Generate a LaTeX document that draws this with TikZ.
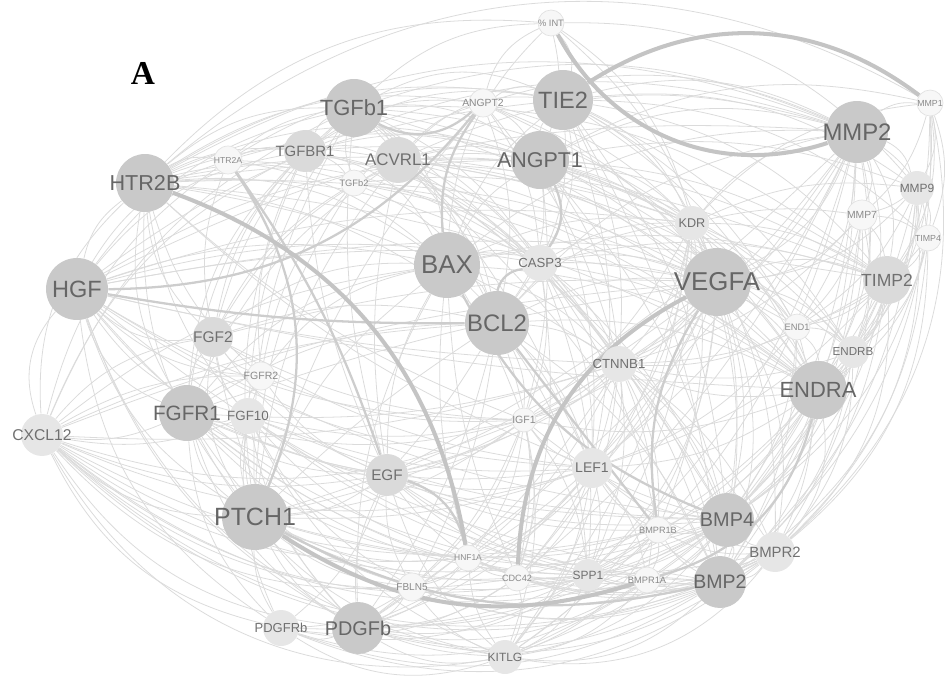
\documentclass[tikz,border=0pt]{standalone}
\usepackage{fontspec}
\setmainfont{Liberation Sans}
\newfontfamily\panelfont{Liberation Serif}
\pgfdeclarelayer{back}
\pgfsetlayers{back,main}
\definecolor{hubfill}{HTML}{C9C9C9}
\definecolor{midfill}{HTML}{DADADA}
\definecolor{palefill}{HTML}{E6E6E6}
\definecolor{leaffill}{HTML}{F7F7F7}
\definecolor{leafline}{HTML}{E2E2E2}
\definecolor{hubtext}{HTML}{666666}
\definecolor{midtext}{HTML}{707070}
\definecolor{leaftext}{HTML}{8A8A8A}
\definecolor{linkgray}{HTML}{DBDBDB}
\definecolor{medgray}{HTML}{CDCDCD}
\definecolor{heavygray}{HTML}{C4C4C4}
\newcommand\fz[1]{\fontsize{#1}{#1}\selectfont}
\newcommand\lbl[1]{\makebox[0pt]{#1}}
\tikzset{
  gene/.style={circle, inner sep=0pt, minimum size=#1*0.04cm},
  hub/.style={gene=#1, fill=hubfill, text=hubtext},
  mid/.style={gene=#1, fill=midfill, text=midtext},
  pale/.style={gene=#1, fill=palefill, text=midtext},
  leaf/.style={gene=#1, fill=leaffill, draw=leafline, line width=0.4pt, text=leaftext},
  link/.style={draw=linkgray, line width=0.45pt},
  medlink/.style={draw=medgray, line width=1.3pt},
  heavylink/.style={draw=heavygray, line width=2.3pt}
}

\begin{document}
\begin{tikzpicture}[x=0.02cm, y=-0.02cm]
  \useasboundingbox (0,0) rectangle (945,679);
  \node[font=\panelfont\bfseries\fz{19}] (panel) at (143,73) {A};
  \node[hub=29, font=\fz{12.5}] (tgfb1) at (354,108) {\lbl{TGFb1}};
  \node[hub=30, font=\fz{13.4}] (tie2) at (563,100) {\lbl{TIE2}};
  \node[hub=31, font=\fz{13.6}] (mmp2) at (857,132) {\lbl{MMP2}};
  \node[hub=29, font=\fz{12.3}] (htr2b) at (145,183) {\lbl{HTR2B}};
  \node[hub=29, font=\fz{12.2}] (angpt1) at (540,160) {\lbl{ANGPT1}};
  \node[hub=31, font=\fz{13.4}] (hgf) at (77,289) {\lbl{HGF}};
  \node[hub=33, font=\fz{14.7}] (bax) at (447,265) {\lbl{BAX}};
  \node[hub=32, font=\fz{13.6}] (bcl2) at (497,323) {\lbl{BCL2}};
  \node[hub=34, font=\fz{14.7}] (vegfa) at (717,282) {\lbl{VEGFA}};
  \node[hub=29, font=\fz{12.5}] (endra) at (818,390) {\lbl{ENDRA}};
  \node[hub=28, font=\fz{11.8}] (fgfr1) at (187,413) {\lbl{FGFR1}};
  \node[hub=33, font=\fz{14.2}] (ptch1) at (255,517) {\lbl{PTCH1}};
  \node[hub=26, font=\fz{11.3}] (pdgfb) at (358,628) {\lbl{PDGFb}};
  \node[hub=27, font=\fz{11.3}] (bmp4) at (727,520) {\lbl{BMP4}};
  \node[hub=26, font=\fz{11.1}] (bmp2) at (720,582) {\lbl{BMP2}};
  \node[mid=21, font=\fz{8.5}] (tgfbr1) at (305,151) {\lbl{TGFBR1}};
  \node[mid=23, font=\fz{9.6}] (acvrl1) at (398,160) {\lbl{ACVRL1}};
  \node[mid=20, font=\fz{8.8}] (fgf2) at (213,337) {\lbl{FGF2}};
  \node[mid=24, font=\fz{10}] (timp2) at (887,280) {\lbl{TIMP2}};
  \node[pale=21, font=\fz{8.9}] (cxcl12) at (42,435) {\lbl{CXCL12}};
  \node[mid=21, font=\fz{8.7}] (egf) at (387,475) {\lbl{EGF}};
  \node[pale=20, font=\fz{8}] (lef1) at (592,468) {\lbl{LEF1}};
  \node[pale=20, font=\fz{8.5}] (bmpr2) at (775,552) {\lbl{BMPR2}};
  \node[pale=18, font=\fz{7.5}] (ctnnb1) at (619,364) {\lbl{CTNNB1}};
  \node[pale=17, font=\fz{7.2}] (kdr) at (692,223) {\lbl{KDR}};
  \node[pale=17, font=\fz{6.8}] (mmp9) at (917,188) {\lbl{MMP9}};
  \node[pale=16, font=\fz{6.8}] (spp1) at (588,575) {\lbl{SPP1}};
  \node[pale=18, font=\fz{7.5}] (casp3) at (540,263) {\lbl{CASP3}};
  \node[pale=18, font=\fz{7.6}] (fgf10) at (248,416) {\lbl{FGF10}};
  \node[pale=17, font=\fz{6.8}] (kitlg) at (505,657) {\lbl{KITLG}};
  \node[pale=18, font=\fz{7.4}] (pdgfrb) at (281,628) {\lbl{PDGFRb}};
  \node[pale=16, font=\fz{6.6}] (endrb) at (853,352) {\lbl{ENDRB}};
  \node[leaf=13, font=\fz{5.3}] (pint) at (551,23) {\lbl{\% INT}};
  \node[leaf=14, font=\fz{5.9}] (angpt2) at (483,103) {\lbl{ANGPT2}};
  \node[leaf=14, font=\fz{4.9}] (htr2a) at (228,160) {\lbl{HTR2A}};
  \node[leaf=13, font=\fz{5.3}] (tgfb2) at (354,183) {\lbl{TGFb2}};
  \node[leaf=13, font=\fz{5}] (mmp1) at (930,103) {\lbl{MMP1}};
  \node[leaf=15, font=\fz{5.9}] (mmp7) at (862,215) {\lbl{MMP7}};
  \node[leaf=13, font=\fz{5}] (timp4) at (928,238) {\lbl{TIMP4}};
  \node[leaf=13, font=\fz{5.3}] (end1) at (797,327) {\lbl{END1}};
  \node[leaf=14, font=\fz{6}] (fgfr2) at (261,376) {\lbl{FGFR2}};
  \node[leaf=12, font=\fz{6}] (igf1) at (524,420) {\lbl{IGF1}};
  \node[leaf=13, font=\fz{5.2}] (bmpr1b) at (658,530) {\lbl{BMPR1B}};
  \node[leaf=13, font=\fz{4.8}] (hnf1a) at (468,558) {\lbl{HNF1A}};
  \node[leaf=13, font=\fz{5.2}] (cdc42) at (517,578) {\lbl{CDC42}};
  \node[leaf=13, font=\fz{5.3}] (bmpr1a) at (647,580) {\lbl{BMPR1A}};
  \node[leaf=14, font=\fz{5.7}] (fbln5) at (412,587) {\lbl{FBLN5}};
  \begin{pgfonlayer}{back}
  \foreach \a/\b/\k in {vegfa/ctnnb1/15, vegfa/endra/15, vegfa/bmp4/15, vegfa/bmp2/20, vegfa/lef1/15, vegfa/spp1/20, vegfa/kitlg/25, vegfa/pdgfb/20, vegfa/egf/15, vegfa/ptch1/10, fgf2/vegfa/8, fgfr1/vegfa/5, hgf/vegfa/10, htr2b/vegfa/12, tgfb1/vegfa/15, bax/vegfa/15, angpt1/vegfa/20, tie2/vegfa/20, angpt2/vegfa/15, kdr/vegfa/15, casp3/vegfa/15, bcl2/vegfa/15, mmp2/vegfa/20, mmp9/vegfa/20, mmp7/vegfa/20, vegfa/timp2/20, vegfa/end1/20, vegfa/endrb/20, vegfa/igf1/15, cxcl12/vegfa/8, vegfa/hnf1a/15, vegfa/bmpr2/20,
    hgf/htr2b/20, hgf/htr2a/20, hgf/tgfb1/20, hgf/tgfbr1/20, hgf/bax/15, hgf/angpt1/15, hgf/tie2/15, hgf/mmp2/15, hgf/timp2/10, hgf/casp3/12, hgf/kdr/12, endra/hgf/5, fgf2/hgf/25, fgfr1/hgf/25, cxcl12/hgf/30, fgf10/hgf/20, ptch1/hgf/20, egf/hgf/20, pdgfb/hgf/20, pdgfrb/hgf/25, kitlg/hgf/30, bmp2/hgf/15, bmp4/hgf/12, lef1/hgf/15, ctnnb1/hgf/5, igf1/hgf/15, fgfr2/hgf/20, spp1/hgf/20,
    bax/bcl2/20, bax/casp3/20, bax/tie2/15, bax/angpt1/15, bax/kdr/15, bax/mmp2/20, bax/ctnnb1/15, bax/lef1/10, bax/igf1/5, egf/bax/15, ptch1/bax/15, fgf2/bax/20, fgfr1/bax/20, htr2b/bax/20, tgfb1/bax/25, tgfbr1/bax/25, fgfr2/bax/20, bax/endra/15, bax/timp2/15, pdgfb/bax/15, cdc42/bax/10, hnf1a/bax/10, cxcl12/bax/15, bax/pint/20,
    bcl2/ctnnb1/15, bcl2/lef1/15, bcl2/kdr/20, bcl2/igf1/15, bcl2/endra/15, bcl2/mmp2/20, bcl2/bmp2/15, tie2/bcl2/20, angpt1/bcl2/20, tgfb1/bcl2/15, htr2b/bcl2/15, fgf2/bcl2/15, fgfr1/bcl2/15, ptch1/bcl2/5, bcl2/egf/5, bcl2/pdgfb/10, cxcl12/bcl2/10, bcl2/cdc42/15, bcl2/spp1/15, bcl2/fbln5/10, tgfb2/bcl2/20, acvrl1/bcl2/20, angpt2/bcl2/15}
    \draw[link] (\a) to[bend left=\k] (\b);
  \foreach \a/\b/\k in {angpt2/tie2/25, pint/tie2/25, angpt1/tie2/20, tie2/mmp2/20, tie2/kdr/20, tie2/mmp9/20, tie2/timp2/20, tie2/endra/15, tie2/ctnnb1/15, tie2/bmp4/15, tie2/casp3/20, tgfb1/tie2/25, acvrl1/tie2/25, htr2b/tie2/20, tgfbr1/tie2/20, tie2/lef1/15, tie2/bmp2/12, tie2/endrb/15, tie2/timp4/20, htr2a/tie2/20, tie2/end1/15,
    mmp2/mmp9/25, mmp2/mmp7/20, mmp2/timp2/20, mmp2/timp4/25, mmp2/endra/20, mmp2/endrb/20, mmp2/end1/15, mmp2/bmp4/15, mmp2/bmpr2/20, mmp2/bmp2/15, mmp2/ctnnb1/15, mmp2/lef1/12, kdr/mmp2/20, angpt1/mmp2/20, tgfb1/mmp2/20, htr2b/mmp2/25, angpt2/mmp2/20, acvrl1/mmp2/20, tgfbr1/mmp2/20, mmp2/spp1/15, mmp2/kitlg/20, mmp2/igf1/12, mmp2/cdc42/12, mmp2/mmp1/20, mmp2/pdgfb/10, mmp2/egf/8, htr2b/mmp1/35,
    mmp1/mmp9/20, mmp1/timp2/20, mmp1/timp4/20, mmp1/endra/20, mmp1/bmpr2/30, mmp1/bmp2/25, kdr/mmp1/20, angpt1/mmp1/20, mmp1/mmp7/15, mmp1/endrb/20,
    mmp9/timp2/20, mmp9/timp4/20, mmp9/endra/20, mmp9/bmp2/20, mmp9/bmpr2/25, kdr/mmp9/15, angpt1/mmp9/15, mmp9/mmp7/10, mmp9/end1/15, mmp9/endrb/20, mmp9/bmp4/15,
    mmp7/timp2/15, mmp7/timp4/15, mmp7/endra/15, mmp7/bmp2/15, mmp7/end1/15, kdr/mmp7/10, mmp7/ctnnb1/15, mmp7/bmp4/15, mmp7/endrb/15,
    timp2/endra/20, timp2/endrb/20, timp2/bmpr2/25, timp2/bmp4/20, timp2/bmp2/20, timp4/timp2/15, kdr/timp2/15, timp2/ctnnb1/15, timp2/lef1/15, timp2/spp1/15, timp2/kitlg/20, timp2/bmpr1a/15, timp2/end1/15, casp3/timp2/15,
    timp4/endra/20, timp4/bmpr2/25, timp4/bmp2/25, timp4/endrb/20, timp4/bmp4/20, timp4/end1/15}
    \draw[link] (\a) to[bend left=\k] (\b);
  \foreach \a/\b/\k in {endra/bmp4/20, endra/bmpr2/25, endra/bmp2/20, end1/endra/20, endrb/endra/20, endra/lef1/15, endra/spp1/15, endra/kitlg/20, kdr/endra/15, endra/ctnnb1/15, endra/bmpr1b/15, endra/cdc42/15, endra/igf1/15,
    end1/endrb/20, end1/bmpr2/20, end1/bmp4/15, end1/bmp2/15, kdr/end1/15, casp3/end1/15, end1/ctnnb1/15, end1/lef1/15,
    endrb/bmpr2/20, endrb/bmp2/20, endrb/bmp4/15, kdr/endrb/15, endrb/ctnnb1/15,
    bmp4/bmp2/20, bmpr2/bmp4/15, bmp4/bmpr1b/15, bmp4/bmpr1a/15, bmp4/spp1/15, bmp4/kitlg/20, bmp4/cdc42/15, bmp4/lef1/15, bmp4/pdgfb/15, bmp4/ptch1/15, bmp4/egf/12, ctnnb1/bmp4/15, kdr/bmp4/15, casp3/bmp4/12, bmp4/fgfr1/10, bmp4/fgf10/10, bmp4/hnf1a/15, bmp4/igf1/12, bmp4/fbln5/15, bmp4/pdgfrb/15,
    bmpr2/bmp2/20, bmp2/bmpr1b/15, bmp2/bmpr1a/15, bmp2/spp1/15, bmp2/kitlg/25, bmp2/cdc42/15, bmp2/pdgfb/20, bmp2/pdgfrb/25, bmp2/egf/15, bmp2/fbln5/20, bmp2/hnf1a/15, bmp2/fgfr1/20, ctnnb1/bmp2/15, bmp2/lef1/10, bmp2/fgf10/15, bmp2/cxcl12/30,
    bmpr2/bmpr1b/15, bmpr2/bmpr1a/20, bmpr2/kitlg/30, bmpr2/spp1/20, bmpr2/cdc42/20, bmpr2/pdgfb/25, bmpr2/pdgfrb/30, bmpr2/cxcl12/35, bmpr2/ptch1/25, bmpr2/fbln5/25, ctnnb1/bmpr2/15, bmpr2/lef1/15, bmpr2/hnf1a/20, bmpr2/fgfr1/25,
    cxcl12/htr2b/25, cxcl12/fgf2/20, fgfr1/cxcl12/15, cxcl12/fgfr2/15, cxcl12/tgfb1/20, cxcl12/htr2a/20, ptch1/cxcl12/20, pdgfrb/cxcl12/25, pdgfb/cxcl12/25, kitlg/cxcl12/35, egf/cxcl12/15, fgf10/cxcl12/15, fbln5/cxcl12/25, spp1/cxcl12/25, cdc42/cxcl12/25, hnf1a/cxcl12/20, bmp4/cxcl12/25, lef1/cxcl12/20, bmpr1a/cxcl12/25, bmpr1b/cxcl12/20, igf1/cxcl12/20, ctnnb1/cxcl12/10, cxcl12/tgfbr1/20}
    \draw[link] (\a) to[bend left=\k] (\b);
  \foreach \a/\b/\k in {ptch1/fgfr1/20, ptch1/fgf10/15, ptch1/fgf2/20, ptch1/fgfr2/15, pdgfrb/ptch1/15, pdgfb/ptch1/15, egf/ptch1/15, kitlg/ptch1/25, fbln5/ptch1/15, hnf1a/ptch1/15, cdc42/ptch1/15, spp1/ptch1/15, lef1/ptch1/10, igf1/ptch1/15, bmpr1b/ptch1/15, ptch1/htr2b/20, ptch1/tgfb1/15, ptch1/tgfbr1/15, ptch1/acvrl1/15, ptch1/tgfb2/15, ptch1/angpt2/10, ctnnb1/ptch1/10,
    fgfr1/fgf2/15, fgf10/fgfr1/15, fgfr1/fgfr2/15, fgfr1/htr2b/20, fgfr1/tgfbr1/20, fgfr1/tgfb1/20, egf/fgfr1/15, pdgfb/fgfr1/20, pdgfrb/fgfr1/20, kitlg/fgfr1/25, fbln5/fgfr1/20, lef1/fgfr1/15, spp1/fgfr1/20, hnf1a/fgfr1/20, igf1/fgfr1/15, fgfr1/acvrl1/15, ctnnb1/fgfr1/10,
    fgfr2/fgf2/15, fgf10/fgf2/15, fgf2/htr2b/20, fgf2/htr2a/15, fgf2/tgfbr1/15, fgf2/tgfb1/15, egf/fgf2/15, pdgfb/fgf2/15, lef1/fgf2/12, igf1/fgf2/12, fgf2/acvrl1/15, fgf2/tgfb2/15,
    fgf10/fgfr2/15, egf/fgf10/15, pdgfb/fgf10/15, pdgfrb/fgf10/15, fgf10/htr2b/15, fgf10/tgfb1/15, kitlg/fgf10/20, fbln5/fgf10/15, lef1/fgf10/12, igf1/fgf10/12, spp1/fgf10/12, hnf1a/fgf10/15,
    fgfr2/htr2b/15, fgfr2/tgfbr1/15, egf/fgfr2/15, igf1/fgfr2/12, fgfr2/tgfb2/15,
    tgfbr1/tgfb1/20, tgfb2/tgfb1/15, tgfb1/acvrl1/15, tgfb1/angpt1/20, tgfb1/pint/20, tgfb1/casp3/15, tgfb1/kdr/15, htr2b/tgfb1/20, htr2a/tgfb1/15, tgfb1/endra/15, tgfb1/timp2/20, tgfb1/bmp4/10, tgfb1/ctnnb1/12, tgfb1/lef1/10, egf/tgfb1/10,
    htr2b/tgfbr1/15, htr2a/tgfbr1/15, tgfbr1/tgfb2/15, tgfbr1/acvrl1/15, tgfbr1/angpt1/15, tgfbr1/angpt2/20, tgfbr1/casp3/15, tgfbr1/kdr/15, egf/tgfbr1/10, tgfbr1/endra/12,
    acvrl1/angpt1/15, acvrl1/angpt2/15, acvrl1/kdr/15, acvrl1/casp3/15, acvrl1/endra/15, acvrl1/bmp4/12, acvrl1/bmpr2/10, acvrl1/ctnnb1/12, acvrl1/timp2/15, tgfb2/acvrl1/15, htr2b/acvrl1/15, acvrl1/vegfa/15, acvrl1/endrb/15, acvrl1/end1/15, egf/acvrl1/10, acvrl1/bmp2/10,
    tgfb2/angpt1/15, tgfb2/casp3/15, tgfb2/kdr/12, htr2b/tgfb2/15, tgfb2/vegfa/12, tgfb2/endra/12}
    \draw[link] (\a) to[bend left=\k] (\b);
  \foreach \a/\b/\k in {htr2b/htr2a/20, htr2b/angpt2/20, htr2b/angpt1/20, htr2b/pint/25, htr2b/kdr/15, htr2b/casp3/15, htr2b/timp2/15, htr2b/endra/12, htr2b/ctnnb1/12, lef1/htr2b/10, igf1/htr2b/10,
    htr2a/angpt1/15, htr2a/bax/15, htr2a/casp3/15,
    angpt2/pint/25, angpt2/angpt1/15, angpt2/casp3/15, angpt2/kdr/15, angpt2/endra/15, angpt2/ctnnb1/12,
    pint/angpt1/15, pint/kdr/20, pint/vegfa/15, pint/mmp9/25,
    angpt1/kdr/20, angpt1/ctnnb1/15, angpt1/endra/15, angpt1/timp2/15, angpt1/lef1/12, angpt1/bmp4/12, angpt1/end1/15, angpt1/igf1/10, angpt1/endrb/15,
    casp3/kdr/15, casp3/ctnnb1/15, casp3/lef1/15, casp3/igf1/15, casp3/endra/15, casp3/bmp2/12, casp3/cdc42/12, casp3/spp1/12, casp3/bmpr1b/12,
    kdr/ctnnb1/15, kdr/lef1/15, kdr/bmp2/15, kdr/bmpr2/15, kdr/spp1/15, kdr/cdc42/15, kdr/igf1/12, kdr/kitlg/15, kdr/bmpr1b/15,
    ctnnb1/lef1/20, ctnnb1/igf1/15, ctnnb1/spp1/15, ctnnb1/cdc42/15, ctnnb1/kitlg/15, ctnnb1/egf/12, ctnnb1/hnf1a/12, ctnnb1/bmpr1b/15, ctnnb1/bmpr1a/15, ctnnb1/pdgfb/12,
    lef1/bmpr1a/15, lef1/spp1/15, lef1/igf1/15, lef1/cdc42/15, lef1/kitlg/15, lef1/hnf1a/15, lef1/fbln5/15, lef1/pdgfb/15, lef1/egf/15, bmpr1b/lef1/15,
    igf1/spp1/15, igf1/cdc42/15, igf1/kitlg/15, igf1/hnf1a/15, igf1/egf/15, igf1/pdgfb/15, igf1/fbln5/15,
    egf/pdgfrb/15, pdgfb/egf/15, fbln5/egf/15, kitlg/egf/15, cdc42/egf/15, spp1/egf/15, bmpr1a/egf/15, bmpr1b/egf/12,
    pdgfb/pdgfrb/20, kitlg/pdgfb/20, fbln5/pdgfb/15, hnf1a/pdgfb/15, cdc42/pdgfb/15, spp1/pdgfb/20, bmpr1a/pdgfb/20, bmpr1b/pdgfb/15,
    kitlg/pdgfrb/25, fbln5/pdgfrb/15, spp1/pdgfrb/20, cdc42/pdgfrb/20, bmpr1a/pdgfrb/25,
    spp1/kitlg/20, cdc42/kitlg/20, bmpr1a/kitlg/20, bmpr1b/kitlg/20, kitlg/fbln5/15, kitlg/hnf1a/15,
    bmpr1a/spp1/15, bmpr1b/spp1/15, spp1/cdc42/15, spp1/hnf1a/15, spp1/fbln5/15,
    bmpr1b/bmpr1a/15, bmpr1a/cdc42/15, cdc42/hnf1a/15, hnf1a/fbln5/15}
    \draw[link] (\a) to[bend left=\k] (\b);
  \draw[medlink] (bcl2) to[bend left=35] (casp3);
  \draw[medlink] (endra) to[bend left=30] (bmpr1a);
  \draw[medlink] (hgf) to[bend right=25] (angpt2);
  \draw[medlink] (hgf) to[bend right=5] (bcl2);
  \draw[medlink] (angpt2) to[bend right=20] (bax);
  \draw[medlink] (tgfb1) to[bend right=35] (angpt2);
  \draw[medlink] (egf) to[bend left=30] (hnf1a);
  \draw[medlink] (htr2a) to[bend left=28] (ptch1);
  \draw[medlink] (htr2a) to[bend left=8] (egf);
  \draw[medlink] (angpt1) to[bend left=30] (casp3);
  \draw[medlink] (vegfa) to[bend right=20] (bmpr1b);
  \draw[medlink] (bcl2) -- (bmpr1b);
  \draw[medlink] (bax) to[bend right=20] (bmp4);
  \draw[medlink] (ptch1) to[bend right=20] (bmp2);
  \draw[heavylink] (pint) to[bend right=40] (mmp2);
  \draw[heavylink] (tie2) to[bend left=35] (mmp1);
  \draw[heavylink] (htr2b) to[bend left=30] (hnf1a);
  \draw[heavylink] (ptch1) to[bend right=25] (bmpr1a);
  \draw[heavylink] (vegfa) to[bend right=30] (cdc42);
  \end{pgfonlayer}
\end{tikzpicture}
\end{document}
